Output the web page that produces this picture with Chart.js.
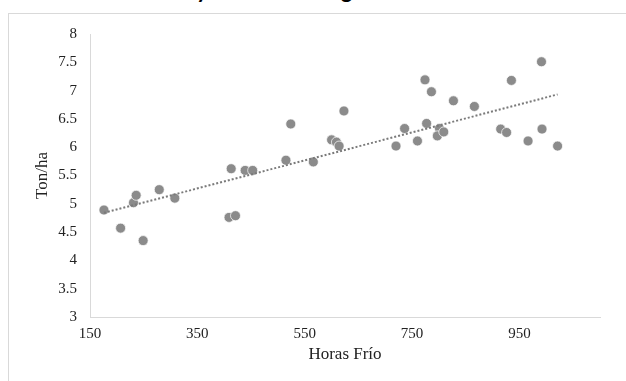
<!DOCTYPE html>
<html>
<head>
<meta charset="utf-8">
<script src="https://cdn.jsdelivr.net/npm/chart.js@4"></script>
<style>
    body { margin: 0; background: #ffffff; overflow: hidden; }
    #wrap { position: relative; width: 626px; height: 381px; overflow: hidden; }
    #frame { position: absolute; left: 8px; top: 13px; width: 700px; height: 400px; border: 1px solid #d9d9d9; }
    #title { position: absolute; left: 67px; top: -21px; font: bold 22px Lato, sans-serif; line-height: 22px; color: #000; white-space: nowrap; }
    #chart { position: absolute; left: 0; top: 0; }
</style>
</head>
<body>
<div id="wrap">
    <div id="frame"></div>
    <div id="title">Rendimiento y Horas Frío según zona</div>
    <canvas id="chart" width="626" height="381"></canvas>
</div>
<script>
// Horas frío (x) y rendimiento en Ton/ha (y)
const horasFrio = [176, 207, 231, 236, 249, 279, 308, 409, 421, 413, 439, 453, 515, 524, 566,
    600, 609, 614, 623, 720, 736, 760, 777, 774, 786, 801, 797, 809, 827, 866,
    915, 926, 935, 966, 991, 992, 1021];
const tonHa = [4.89, 4.57, 5.02, 5.15, 4.35, 5.25, 5.10, 4.76, 4.79, 5.62, 5.59, 5.59, 5.77, 6.41, 5.74,
    6.13, 6.09, 6.02, 6.64, 6.02, 6.33, 6.11, 6.42, 7.19, 6.98, 6.33, 6.20, 6.27, 6.82, 6.72,
    6.32, 6.26, 7.18, 6.11, 7.51, 6.32, 6.02];
const xTicks = [150, 350, 550, 750, 950];
const yTicks = [3, 3.5, 4, 4.5, 5, 5.5, 6, 6.5, 7, 7.5, 8];

// linear trend (least squares) over the data range
function trend(xs, ys) {
    const n = xs.length;
    const mx = xs.reduce((a, b) => a + b, 0) / n;
    const my = ys.reduce((a, b) => a + b, 0) / n;
    let sxy = 0, sxx = 0;
    for (let i = 0; i < n; i++) {
        sxy += (xs[i] - mx) * (ys[i] - my);
        sxx += (xs[i] - mx) * (xs[i] - mx);
    }
    const m = sxy / sxx, b = my - m * mx;
    const x0 = Math.min(...xs), x1 = Math.max(...xs);
    return [{ x: x0, y: m * x0 + b }, { x: x1, y: m * x1 + b }];
}

const points = horasFrio.map((x, i) => ({ x: x, y: tonHa[i] }));
const serif = '"Liberation Serif", "Times New Roman", serif';

new Chart(document.getElementById('chart').getContext('2d'), {
    type: 'scatter',
    data: {
        datasets: [{
            type: 'line',
            data: trend(horasFrio, tonHa),
            borderColor: '#7a7a7a',
            borderWidth: 2,
            borderDash: [2, 2],
            pointRadius: 0,
            fill: false,
            order: 0
        }, {
            data: points,
            backgroundColor: '#8b8b8b',
            borderColor: 'rgba(255,255,255,0.7)',
            borderWidth: 1,
            pointRadius: 5,
            order: 1
        }]
    },
    options: {
        responsive: false,
        animation: false,
        layout: { padding: { left: 30, right: 26, top: 34, bottom: 14 } },
        plugins: { legend: { display: false }, tooltip: { enabled: false } },
        scales: {
            x: {
                type: 'linear',
                min: 150,
                max: 1100,
                afterBuildTicks: s => { s.ticks = xTicks.map(v => ({ value: v })); },
                afterFit: s => { s.height = 50; },
                grid: { drawOnChartArea: false, drawTicks: false },
                border: { color: '#d9d9d9' },
                ticks: { color: '#222', padding: 8, font: { family: serif, size: 15 }, callback: v => String(v) },
                title: { display: true, text: 'Horas Frío', color: '#222', padding: 2, font: { family: serif, size: 17 } }
            },
            y: {
                min: 3,
                max: 8,
                afterBuildTicks: s => { s.ticks = yTicks.map(v => ({ value: v })); },
                afterFit: s => { s.width = 60; },
                grid: { drawOnChartArea: false, drawTicks: false },
                border: { color: '#d9d9d9' },
                ticks: { color: '#222', padding: 13, font: { family: serif, size: 15 }, callback: v => String(v) },
                title: { display: true, text: 'Ton/ha', color: '#222', padding: 2, font: { family: serif, size: 17 } }
            }
        }
    }
});
</script>
</body>
</html>
